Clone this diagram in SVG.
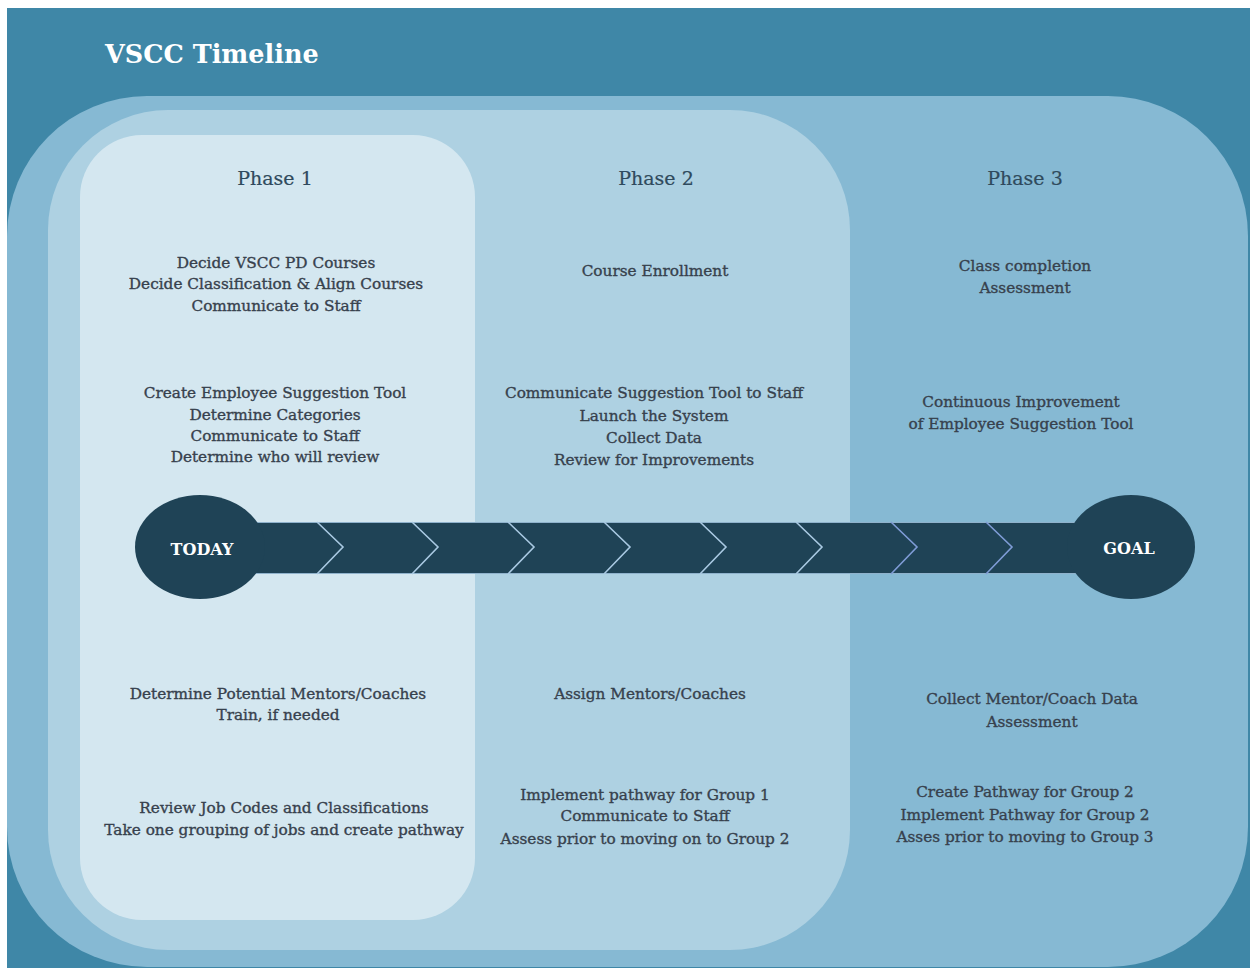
<svg xmlns="http://www.w3.org/2000/svg" width="1250" height="970" viewBox="0 0 1250 970">
  <style>
    .title { font-family: "DejaVu Serif", "Liberation Serif", serif; font-weight: bold; font-size: 25.5px; fill: #ffffff; }
    .phase { font-family: "DejaVu Serif", "Liberation Serif", serif; font-size: 19px; fill: #2f4a5d; text-anchor: middle; stroke: #2f4a5d; stroke-width: 0.2px; }
    .item { font-family: "DejaVu Serif", "Liberation Serif", serif; font-size: 15.3px; fill: #37414d; text-anchor: middle; stroke: #37414d; stroke-width: 0.35px; }
    .cap { font-family: "DejaVu Serif", "Liberation Serif", serif; font-weight: bold; font-size: 16px; fill: #ffffff; text-anchor: middle; }
    .band { fill: #1f4356; }
    .chev { fill: none; stroke: #a9c9e2; stroke-width: 1.6; }
    .chev2 { fill: none; stroke: #7f9cd6; stroke-width: 1.6; }
  </style>

  <!-- background panels -->
  <rect x="0" y="0" width="1250" height="970" fill="#ffffff"/>
  <rect x="7" y="8" width="1243" height="960" fill="#3f87a7"/>
  <rect id="phase3-panel" x="7" y="96" width="1241" height="871" rx="140" ry="140" fill="#86b9d3"/>
  <rect id="phase2-panel" x="48" y="110" width="802" height="840" rx="120" ry="120" fill="#aed1e2"/>
  <rect id="phase1-panel" x="80" y="135" width="395" height="785" rx="62" ry="62" fill="#d4e7f0"/>

  <text class="title" x="105" y="63">VSCC Timeline</text>

  <!-- timeline band with chevrons -->
  <g id="connectors">
    <rect class="band" x="240" y="522" width="860" height="52"/>
    <line x1="240" y1="522.5" x2="1100" y2="522.5" stroke="#8fb2cc" stroke-width="1"/>
    <line x1="240" y1="573.5" x2="1100" y2="573.5" stroke="#8fb2cc" stroke-width="1"/>
    <polyline class="chev" points="317,522 343,547 317,574"/>
    <polyline class="chev" points="412,522 438,547 412,574"/>
    <polyline class="chev" points="508,522 534,547 508,574"/>
    <polyline class="chev" points="604,522 630,547 604,574"/>
    <polyline class="chev" points="700,522 726,547 700,574"/>
    <polyline class="chev" points="796,522 822,547 796,574"/>
    <polyline class="chev2" points="891,522 917,547 891,574"/>
    <polyline class="chev2" points="986,522 1012,547 986,574"/>
  </g>

  <g id="today">
    <ellipse class="band" cx="200" cy="547" rx="65" ry="52"/>
    <text class="cap" x="202" y="555">TODAY</text>
  </g>
  <g id="goal">
    <ellipse class="band" cx="1131" cy="547" rx="64" ry="52"/>
    <text class="cap" x="1129" y="554">GOAL</text>
  </g>

  <!-- Phase 1 -->
  <g id="phase1">
    <text class="phase" x="275" y="185">Phase 1</text>
    <text class="item" x="276" y="268">Decide VSCC PD Courses</text>
    <text class="item" x="276" y="289">Decide Classification &amp; Align Courses</text>
    <text class="item" x="276" y="311">Communicate to Staff</text>
    <text class="item" x="275" y="398">Create Employee Suggestion Tool</text>
    <text class="item" x="275" y="420">Determine Categories</text>
    <text class="item" x="275" y="441">Communicate to Staff</text>
    <text class="item" x="275" y="462">Determine who will review</text>
    <text class="item" x="278" y="699">Determine Potential Mentors/Coaches</text>
    <text class="item" x="278" y="720">Train, if needed</text>
    <text class="item" x="284" y="813">Review Job Codes and Classifications</text>
    <text class="item" x="284" y="835">Take one grouping of jobs and create pathway</text>
  </g>

  <!-- Phase 2 -->
  <g id="phase2">
    <text class="phase" x="656" y="185">Phase 2</text>
    <text class="item" x="655" y="276">Course Enrollment</text>
    <text class="item" x="654" y="398">Communicate Suggestion Tool to Staff</text>
    <text class="item" x="654" y="421">Launch the System</text>
    <text class="item" x="654" y="443">Collect Data</text>
    <text class="item" x="654" y="465">Review for Improvements</text>
    <text class="item" x="650" y="699">Assign Mentors/Coaches</text>
    <text class="item" x="645" y="800">Implement pathway for Group 1</text>
    <text class="item" x="645" y="821">Communicate to Staff</text>
    <text class="item" x="645" y="844">Assess prior to moving on to Group 2</text>
  </g>

  <!-- Phase 3 -->
  <g id="phase3">
    <text class="phase" x="1025" y="185">Phase 3</text>
    <text class="item" x="1025" y="271">Class completion</text>
    <text class="item" x="1025" y="293">Assessment</text>
    <text class="item" x="1021" y="407">Continuous Improvement</text>
    <text class="item" x="1021" y="429">of Employee Suggestion Tool</text>
    <text class="item" x="1032" y="704">Collect Mentor/Coach Data</text>
    <text class="item" x="1032" y="727">Assessment</text>
    <text class="item" x="1025" y="797">Create Pathway for Group 2</text>
    <text class="item" x="1025" y="820">Implement Pathway for Group 2</text>
    <text class="item" x="1025" y="842">Asses prior to moving to Group 3</text>
  </g>
</svg>
